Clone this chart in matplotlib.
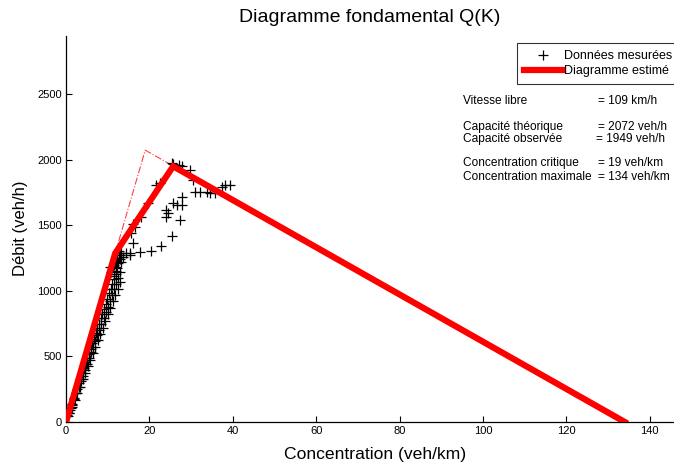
import matplotlib
matplotlib.use("Agg")
import matplotlib.pyplot as plt

plt.rcParams['font.family'] = ['Liberation Sans', 'DejaVu Sans']

# ---- data ----
# dense fluid-regime band (K veh/km, Q veh/h)
band_a_k = [0.3, 0.7, 1.1, 1.5, 1.9, 2.3, 2.7, 3.1, 3.5, 3.9, 4.3, 4.7, 5.1, 5.5, 5.9, 6.3,
            6.7, 7.1, 7.5, 7.9, 8.3, 8.7, 9.1, 9.5, 9.9, 10.3, 10.7, 11.1, 11.5, 11.9, 12.3]
band_a_q = [50, 70, 105, 140, 180, 220, 255, 295, 330, 370, 410, 445, 485, 520, 560, 600,
            635, 675, 715, 750, 790, 825, 865, 900, 940, 980, 1015, 1055, 1090, 1130, 1170]
band_b_k = [0.5, 1.0, 1.5, 2.0, 2.5, 3.0, 3.5, 4.0, 4.5, 5.0, 5.5, 6.0, 6.5, 7.0, 7.5,
            8.0, 8.5, 9.0, 9.5, 10.0, 10.5, 11.0, 11.5, 12.0, 12.5, 13.0]
band_b_q = [45, 90, 130, 175, 220, 265, 310, 350, 395, 440, 485, 530, 570, 615, 660,
            705, 750, 790, 835, 880, 925, 970, 1010, 1055, 1100, 1145]
band_c_k = [0.8, 1.4, 2.1, 2.7, 3.3, 4.0, 4.6, 5.2, 5.8, 6.4, 7.0, 7.6, 8.2, 8.8, 9.4,
            10.0, 10.6, 11.2, 11.8, 12.4, 13.0]
band_c_q = [65, 115, 170, 220, 270, 330, 375, 425, 475, 525, 575, 625, 670, 720, 770,
            820, 870, 920, 965, 1015, 1065]
bend_k = [0.2, 0.4, 11.5, 12.0, 12.3, 12.7, 13.0, 12.5, 11.9, 13.3, 12.0, 11.6, 10.9,
          11.3, 12.9, 11.7, 10.5, 13.3, 14.5, 13.6, 12.8]
bend_q = [80, 110, 1200, 1230, 1250, 1270, 1240, 1210, 1180, 1285, 1150, 1110, 1140,
          1190, 1273, 1235, 1183, 1222, 1286, 1260, 1300]
# scattered points (transition and congested regime)
scat_k = [15.3, 16.0, 15.7, 16.1, 16.5, 18.1, 19.7, 21.7, 22.5, 25.3, 25.7, 27.2, 27.7,
          29.7, 30.5, 30.9, 32.1, 33.7, 34.5, 35.7, 37.3, 38.1, 39.3,
          27.7, 25.7, 26.5, 27.7, 24.1, 24.5, 24.1, 27.3,
          17.7, 20.5, 22.9, 25.3, 15.3]
scat_q = [1286, 1367, 1438, 1509, 1488, 1565, 1666, 1806, 1819, 1971, 1966, 1959, 1951,
          1921, 1845, 1756, 1756, 1756, 1743, 1743, 1794, 1806, 1806,
          1717, 1666, 1654, 1654, 1616, 1590, 1565, 1540,
          1298, 1306, 1341, 1418, 1273]

# estimated (observed) diagram
est_k = [0, 11.8, 25.7, 134]
est_q = [0, 1286, 1949, 0]
# theoretical triangle
theo_k = [0, 19, 134]
theo_q = [0, 2072, 0]

xticks = [0, 20, 40, 60, 80, 100, 120, 140]
yticks = [0, 500, 1000, 1500, 2000, 2500]

W, H = 674, 466
fig = plt.figure(figsize=(W / 100, H / 100), dpi=100)
ax = fig.add_axes([66 / W, 44 / H, (W - 66) / W, (422 - 36) / H])

meas_k = band_a_k + band_b_k + band_c_k + bend_k + scat_k
meas_q = band_a_q + band_b_q + band_c_q + bend_q + scat_q

ax.plot(theo_k, theo_q, linestyle='-.', color='#ff4040', linewidth=0.8, zorder=1)
ax.plot(meas_k, meas_q, linestyle='none', marker='+', color='black',
        markersize=6.5, markeredgewidth=0.9, zorder=2, label='Données mesurées')
ax.plot(est_k, est_q, color='red', linewidth=4.5, solid_joinstyle='miter',
        zorder=3, label='Diagramme estimé')

ax.set_xlim(0, 145.8)
ax.set_ylim(0, 2942)
ax.set_xticks(xticks)
ax.set_yticks(yticks)
ax.tick_params(direction='in', length=4, labelsize=8, colors='black', width=0.8, pad=3)
for s in ['top', 'right']:
    ax.spines[s].set_visible(False)
for s in ['left', 'bottom']:
    ax.spines[s].set_linewidth(0.9)

fig.text(370 / W, 1 - 18 / H, 'Diagramme fondamental Q(K)', ha='center', va='center',
         fontsize=14)
fig.text(375 / W, 1 - 455 / H, 'Concentration (veh/km)', ha='center', va='center',
         fontsize=12.6)
fig.text(21 / W, 1 - 228 / H, 'Débit (veh/h)', ha='center', va='center',
         fontsize=12, rotation=90)

leg = ax.legend(loc='upper right', bbox_to_anchor=(1.008, 1 - 43 / H),
                bbox_transform=fig.transFigure, fontsize=9, frameon=True,
                fancybox=False, borderpad=0.55, labelspacing=0.25, handlelength=3.0,
                handletextpad=0.2, borderaxespad=0)
leg.get_frame().set_edgecolor('black')
leg.get_frame().set_linewidth(0.8)

labels = [('Vitesse libre', '= 109 km/h', 101, 598),
          ('Capacité théorique', '= 2072 veh/h', 127, 598),
          ('Capacité observée', '= 1949 veh/h', 139, 596),
          ('Concentration critique', '= 19 veh/km', 163, 598),
          ('Concentration maximale', '= 134 veh/km', 177, 598)]
for lab, val, y, xv in labels:
    fig.text(463 / W, 1 - y / H, lab, ha='left', va='center', fontsize=8.6)
    fig.text(xv / W, 1 - y / H, val, ha='left', va='center', fontsize=8.6)

fig.savefig('out.png', dpi=100)
